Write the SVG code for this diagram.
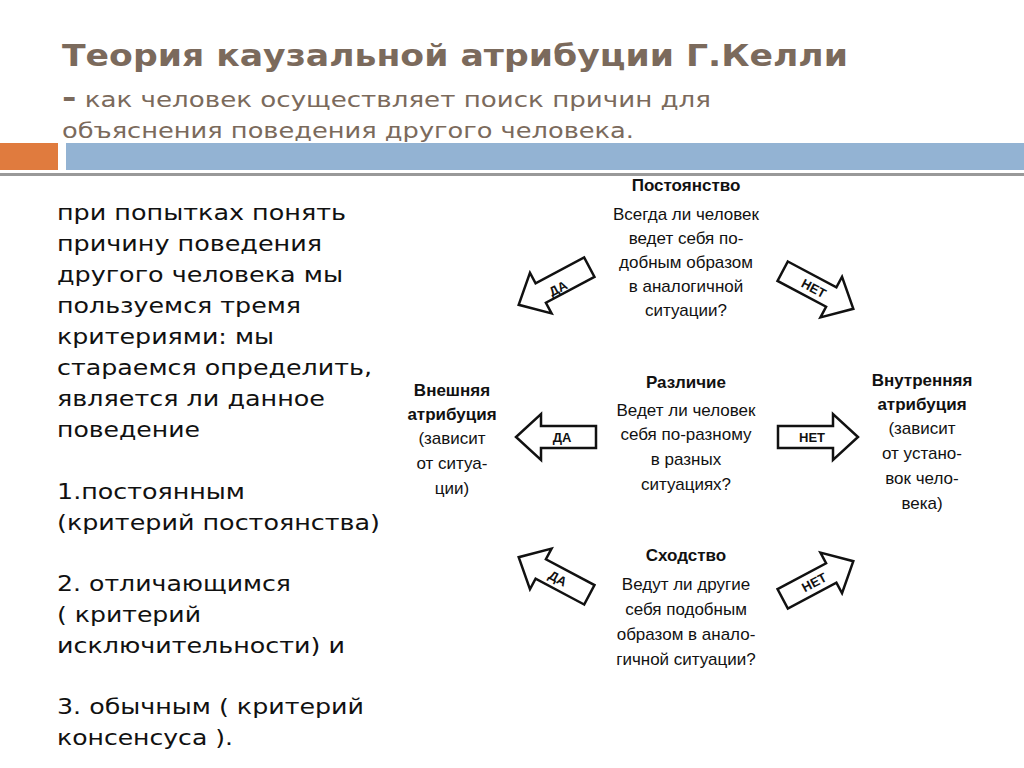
<svg xmlns="http://www.w3.org/2000/svg" width="1024" height="768" viewBox="0 0 1024 768">
<style>
.t{font-family:"DejaVu Sans",Verdana,sans-serif;fill:#7b6a5c}
.b{font-family:"DejaVu Sans",Verdana,sans-serif;font-size:21px;fill:#111}
.d{font-family:"Liberation Sans",Arial,sans-serif;font-size:17px;fill:#111;text-anchor:middle}
.h{font-weight:bold}
.ar{fill:#fff;stroke:#111;stroke-width:2.5}
.al{font-family:"Liberation Sans",Arial,sans-serif;font-size:13px;font-weight:bold;fill:#111;text-anchor:middle}
</style>
<defs><path id="arr" d="M-40,-11 L15,-11 L15,-23 L40,0 L15,23 L15,11 L-40,11 Z"/></defs>
<rect width="1024" height="768" fill="#fff"/>
<text class="t h" x="62" y="66" font-size="30" textLength="786" lengthAdjust="spacingAndGlyphs">Теория  каузальной атрибуции Г.Келли</text>
<text class="t" x="62" y="107" font-size="21" textLength="649" lengthAdjust="spacingAndGlyphs"><tspan font-weight="bold" font-size="28">-</tspan> как  человек осуществляет поиск причин для</text>
<text class="t" x="62" y="138" font-size="21" textLength="572" lengthAdjust="spacingAndGlyphs">объяснения поведения другого человека.</text>
<rect x="0" y="143" width="58" height="27" fill="#e07b3e"/>
<rect x="66" y="143" width="958" height="27" fill="#93b3d3"/>
<rect x="0" y="173" width="1024" height="3" fill="#999"/>
<g id="body">
<text class="b" x="57" y="220" textLength="289" lengthAdjust="spacingAndGlyphs">при попытках понять</text>
<text class="b" x="57" y="251" textLength="265" lengthAdjust="spacingAndGlyphs">причину поведения</text>
<text class="b" x="57" y="282" textLength="286" lengthAdjust="spacingAndGlyphs">другого человека мы</text>
<text class="b" x="57" y="313" textLength="244" lengthAdjust="spacingAndGlyphs">пользуемся тремя</text>
<text class="b" x="57" y="344" textLength="217" lengthAdjust="spacingAndGlyphs">критериями: мы</text>
<text class="b" x="57" y="375" textLength="315" lengthAdjust="spacingAndGlyphs">стараемся определить,</text>
<text class="b" x="57" y="406" textLength="268" lengthAdjust="spacingAndGlyphs">является ли данное</text>
<text class="b" x="57" y="437" textLength="143" lengthAdjust="spacingAndGlyphs">поведение</text>
<text class="b" x="57" y="499" textLength="188" lengthAdjust="spacingAndGlyphs">1.постоянным</text>
<text class="b" x="57" y="530" textLength="323" lengthAdjust="spacingAndGlyphs">(критерий постоянства)</text>
<text class="b" x="57" y="591" textLength="234" lengthAdjust="spacingAndGlyphs">2. отличающимся</text>
<text class="b" x="57" y="622" textLength="144" lengthAdjust="spacingAndGlyphs">( критерий</text>
<text class="b" x="57" y="653" textLength="288" lengthAdjust="spacingAndGlyphs">исключительности) и</text>
<text class="b" x="57" y="714" textLength="307" lengthAdjust="spacingAndGlyphs">3. обычным ( критерий</text>
<text class="b" x="57" y="745" textLength="176" lengthAdjust="spacingAndGlyphs">консенсуса ).</text>
</g>
<g id="n-post">
<text class="d h" x="686" y="191">Постоянство</text>
<text class="d" x="686" y="220">Всегда ли человек</text>
<text class="d" x="686" y="244">ведет себя по-</text>
<text class="d" x="686" y="268">добным образом</text>
<text class="d" x="686" y="292">в аналогичной</text>
<text class="d" x="686" y="316">ситуации?</text>
</g>
<g id="n-razl">
<text class="d h" x="686" y="388">Различие</text>
<text class="d" x="686" y="416">Ведет ли человек</text>
<text class="d" x="686" y="440">себя по-разному</text>
<text class="d" x="686" y="465">в разных</text>
<text class="d" x="686" y="490">ситуациях?</text>
</g>
<g id="n-shod">
<text class="d h" x="686" y="561">Сходство</text>
<text class="d" x="686" y="590">Ведут ли другие</text>
<text class="d" x="686" y="615">себя подобным</text>
<text class="d" x="686" y="640">образом в анало-</text>
<text class="d" x="686" y="665">гичной ситуации?</text>
</g>
<g id="n-ext">
<text class="d h" x="452" y="396">Внешняя</text>
<text class="d h" x="452" y="420">атрибуция</text>
<text class="d" x="452" y="444">(зависит</text>
<text class="d" x="452" y="469">от ситуа-</text>
<text class="d" x="452" y="494">ции)</text>
</g>
<g id="n-int">
<text class="d h" x="922" y="386">Внутренняя</text>
<text class="d h" x="922" y="410">атрибуция</text>
<text class="d" x="922" y="434">(зависит</text>
<text class="d" x="922" y="459">от устано-</text>
<text class="d" x="922" y="484">вок чело-</text>
<text class="d" x="922" y="509">века)</text>
</g>
<g id="connectors">
<g transform="translate(554,286) rotate(152)"><use href="#arr" class="ar"/></g>
<text class="al" transform="translate(558,288) rotate(-28)" dy="5">ДА</text>
<g transform="translate(818,290) rotate(28)"><use href="#arr" class="ar"/></g>
<text class="al" transform="translate(814,288) rotate(28)" dy="5">НЕТ</text>
<g transform="translate(556,437) rotate(180)"><use href="#arr" class="ar"/></g>
<text class="al" x="562" y="442">ДА</text>
<g transform="translate(818,437)"><use href="#arr" class="ar"/></g>
<text class="al" x="812" y="442">НЕТ</text>
<g transform="translate(554,576) rotate(208)"><use href="#arr" class="ar"/></g>
<text class="al" transform="translate(558,578) rotate(28)" dy="5">ДА</text>
<g transform="translate(818,580) rotate(-28)"><use href="#arr" class="ar"/></g>
<text class="al" transform="translate(814,582) rotate(-28)" dy="5">НЕТ</text>
</g>
</svg>
